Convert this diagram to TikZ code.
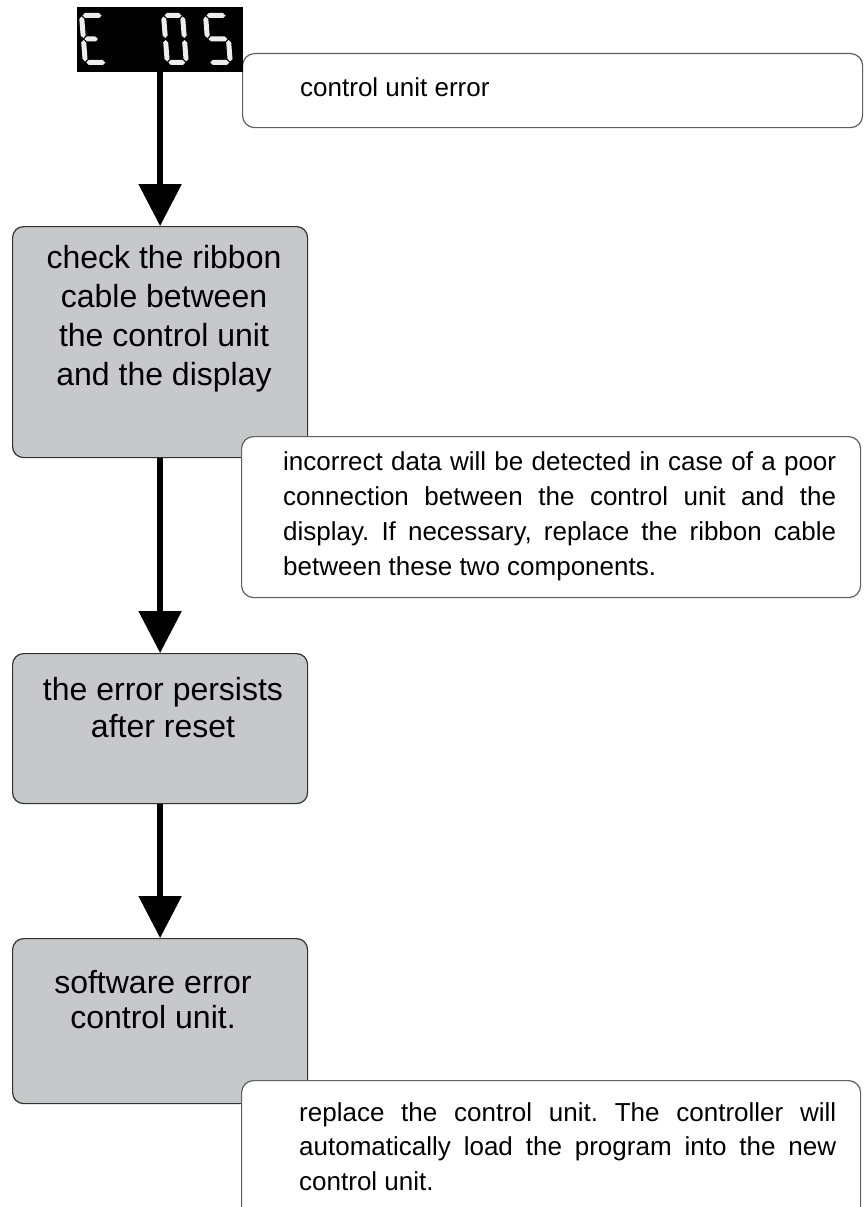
\documentclass[tikz,border=0pt]{standalone}
\usepackage{fontspec}
\setmainfont{Liberation Sans}
\usetikzlibrary{arrows.meta}
\definecolor{boxgray}{RGB}{199,200,202}
\definecolor{edgec}{RGB}{50,50,50}
\definecolor{notec}{RGB}{95,95,95}
\hyphenpenalty=10000
\exhyphenpenalty=10000
\tolerance=9999
\frenchspacing
\newcommand\hsegm[3]{\fill[segc] (#1,#3) -- ({#1+2.5},{#3+2.5}) -- ({#2-2.5},{#3+2.5}) -- (#2,#3) -- ({#2-2.5},{#3-2.5}) -- ({#1+2.5},{#3-2.5}) -- cycle;}
\newcommand\vsegm[3]{\fill[segc] (#1,#2) -- ({#1+2.5},{#2+2.5}) -- ({#1+2.5},{#3-2.5}) -- (#1,#3) -- ({#1-2.5},{#3-2.5}) -- ({#1-2.5},{#2+2.5}) -- cycle;}
\begin{document}
\begin{tikzpicture}[x=1pt,y=-1pt,
  graybox/.style={draw=edgec, line width=1.2pt, fill=boxgray, rounded corners=11pt, anchor=north west, inner sep=0pt},
  notebox/.style={draw=notec, line width=1.2pt, fill=white, rounded corners=12pt, anchor=north west, inner sep=0pt},
  arr/.style={line width=5.5pt, -{Triangle[width=42pt,length=42pt]}},
  segc/.style={fill=white!93!black},
  bigtext/.style={font=\fontsize{32}{39}\selectfont, align=center, inner sep=0pt, anchor=north},
  notetext/.style={font=\fontsize{26}{35}\selectfont, align=justify, inner sep=0pt, anchor=north west}]
\clip (0,0) rectangle (864,1207);
\fill[white] (0,0) rectangle (864,1207);
% note box 1 and display
\node[notebox, minimum width=620pt, minimum height=74pt] (n1) at (242,53) {};
\node[fill=black, anchor=north west, minimum width=166pt, minimum height=65pt, inner sep=0pt] (disp) at (77,7) {};
% digits
\begin{scope}[shift={(83,65)}, yscale=-1, xslant=0.08]
  \hsegm{3.5}{22.5}{49.5}\hsegm{3.5}{17}{26}\hsegm{3.5}{22.5}{2.5}
  \vsegm{2.5}{27}{48.5}\vsegm{2.5}{3.5}{25}
\end{scope}
\begin{scope}[shift={(165,65)}, yscale=-1, xslant=0.08]
  \hsegm{3.5}{20.5}{49.5}\hsegm{3.5}{20.5}{2.5}
  \vsegm{2.5}{27}{48.5}\vsegm{2.5}{3.5}{25}
  \vsegm{21.5}{27}{48.5}\vsegm{21.5}{3.5}{25}
\end{scope}
\begin{scope}[shift={(207,65)}, yscale=-1, xslant=0.08]
  \hsegm{3.5}{22.5}{49.5}\hsegm{3.5}{22.5}{26}\hsegm{3.5}{22.5}{2.5}
  \vsegm{2.5}{27}{48.5}\vsegm{23.5}{3.5}{25}
\end{scope}
% boxes
\node[graybox, minimum width=295pt, minimum height=231pt] (b2) at (12,226) {};
\node[notebox, minimum width=619pt, minimum height=161pt] (n3) at (241,436) {};
\node[graybox, minimum width=295pt, minimum height=150pt] (b4) at (12,653) {};
\node[graybox, minimum width=295pt, minimum height=165pt] (b5) at (12,938) {};
\node[notebox, minimum width=619pt, minimum height=160pt] (n6) at (241,1080) {};
% arrows
\draw[arr] (disp.south -| b2.north) -- (b2.north);
\draw[arr] (b2.south) -- (b4.north);
\draw[arr] (b4.south) -- (b5.north);
% texts
\node[font=\fontsize{26}{31}\selectfont, anchor=base west, inner sep=0pt] (t1) at (300,96) {control unit error};
\node[bigtext] (t2) at (164,245) {check the ribbon\\cable between\\the control unit\\and the display};
\node[notetext, text width=553pt] (t3) at (283,451) {incorrect data will be detected in case of a poor connection between the control unit and the display. If necessary, replace the ribbon cable between these two components.};
\node[bigtext, font=\fontsize{32}{37}\selectfont] (t4) at (163,677) {the error persists\\after reset};
\node[bigtext, font=\fontsize{32}{35}\selectfont] (t5) at (153,970) {software error\\control unit.};
\node[notetext, text width=537pt, font=\fontsize{26}{34.5}\selectfont] (t6) at (299,1102) {replace the control unit. The controller will automatically load the program into the new control unit.};
\end{tikzpicture}
\end{document}
